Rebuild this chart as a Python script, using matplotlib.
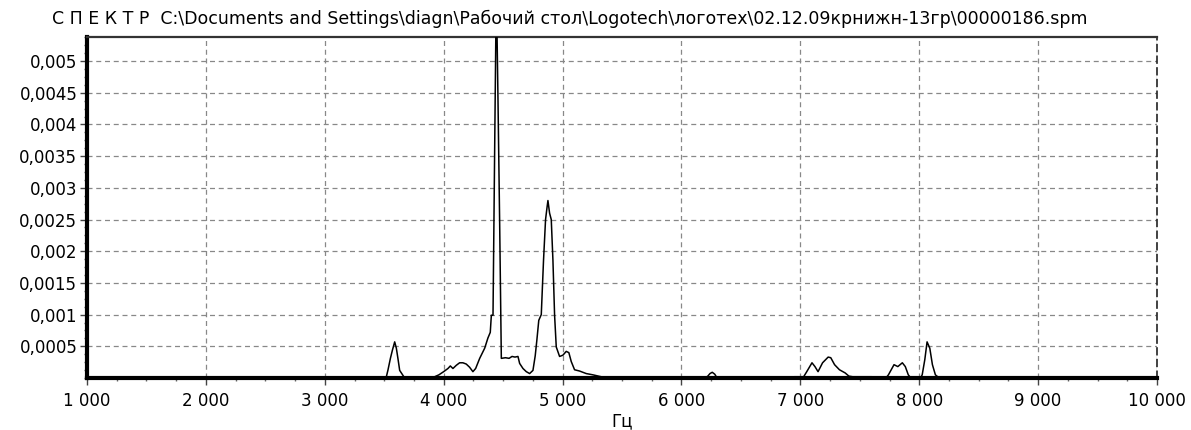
import matplotlib
matplotlib.use("Agg")
import matplotlib.pyplot as plt
from matplotlib.ticker import MultipleLocator

# --- данные спектра (Гц, амплитуда) ---
freq = [1000, 3500, 3518, 3532, 3552, 3569, 3588, 3602, 3616, 3630, 3658, 3672,
        3900, 3924, 3960, 4000, 4036, 4056, 4078, 4106, 4134, 4162, 4190, 4218,
        4246, 4269, 4303, 4345, 4372, 4392, 4401, 4415, 4429, 4443, 4457, 4471,
        4485, 4520, 4550, 4575, 4600, 4625, 4639, 4667, 4695, 4723, 4751, 4770,
        4784, 4800, 4821, 4840, 4857, 4870, 4877, 4891, 4905, 4919, 4933, 4947,
        4975, 5003, 5031, 5053, 5073, 5101, 5143, 5199, 5255, 5325, 5360,
        6200, 6222, 6240, 6259, 6280, 6300, 6490, 6516, 6540,
        6933, 6950, 7028, 7054, 7098, 7123, 7149, 7187, 7234, 7256, 7288, 7329,
        7377, 7408, 7440, 7600, 7620, 7720, 7741, 7788, 7820, 7858, 7883, 7908,
        7930, 8010, 8025, 8047, 8066, 8089, 8111, 8136, 8168,
        9400, 9418, 9440, 10000]
amp = [0, 0, 0.00002, 0.00013, 0.00031, 0.00044, 0.00057, 0.00047, 0.0003, 0.00012, 0.00004, 0,
       0, 0.00002, 0.00005, 0.0001, 0.00015, 0.00019, 0.00015, 0.0002, 0.00024, 0.00024, 0.00022, 0.00017,
       0.0001, 0.00015, 0.00031, 0.00047, 0.00063, 0.00072, 0.00099, 0.00099, 0.00362, 0.0062, 0.00438, 0.00244,
       0.00031, 0.00032, 0.00031, 0.00034, 0.00033, 0.00034, 0.00023, 0.00015, 0.0001, 0.00007, 0.00012, 0.00035,
       0.0006, 0.00091, 0.001, 0.00186, 0.0025, 0.0027, 0.0028, 0.0026, 0.0025, 0.00186, 0.00099, 0.00049,
       0.00034, 0.00036, 0.00042, 0.0004, 0.00026, 0.00013, 0.00011, 0.00007, 0.00005, 0.00002, 0,
       0, 0.00003, 0.00007, 0.00009, 0.00006, 0, 0, 0.00002, 0,
       0, 0.00002, 0.00002, 0.0001, 0.00024, 0.00018, 0.0001, 0.00024, 0.00033, 0.00032, 0.00021, 0.00013,
       0.00008, 0.00003, 0.00002, 0.00002, 0, 0, 0.00005, 0.00021, 0.00018, 0.00024, 0.00018, 0.00005,
       0, 0, 0.00005, 0.00029, 0.00057, 0.00047, 0.00021, 0.00005, 0,
       0, 0.00002, 0, 0]

xticks = [1000, 2000, 3000, 4000, 5000, 6000, 7000, 8000, 9000, 10000]
xtick_labels = ["1 000", "2 000", "3 000", "4 000", "5 000", "6 000", "7 000", "8 000", "9 000", "10 000"]
yticks = [0.0005, 0.001, 0.0015, 0.002, 0.0025, 0.003, 0.0035, 0.004, 0.0045, 0.005]
ytick_labels = ["0,0005", "0,001", "0,0015", "0,002", "0,0025", "0,003", "0,0035", "0,004", "0,0045", "0,005"]

title = ("С П Е К Т Р  C:\\Documents and Settings\\diagn\\Рабочий стол\\Logotech\\логотех"
         "\\02.12.09крнижн-13гр\\00000186.spm")

plt.rcParams['font.family'] = ['DejaVu Sans']

fig = plt.figure(figsize=(11.91, 4.30), dpi=100)
ax = fig.add_axes([87 / 1191, 1 - 378 / 430, (1157 - 87) / 1191, (378 - 37) / 430])

ax.plot(freq, amp, color="black", lw=1.1, zorder=3)

ax.set_xlim(1000, 10000)
ax.set_ylim(0, 0.00538)
ax.set_xticks(xticks)
ax.set_xticklabels(xtick_labels, fontsize=12)
ax.set_yticks(yticks)
ax.set_yticklabels(ytick_labels, fontsize=12)
ax.xaxis.set_minor_locator(MultipleLocator(250))
ax.yaxis.set_minor_locator(MultipleLocator(0.000125))
ax.tick_params(which="major", direction="out", length=5, width=1, color="#444444")
ax.tick_params(which="minor", direction="out", length=2.5, width=1, color="#666666")
ax.tick_params(axis="x", which="major", pad=5)
ax.tick_params(axis="y", which="major", pad=2)

ax.grid(True, which="major", color="#888888", lw=0.9, ls=(0, (4, 3)))

ax.spines["left"].set_linewidth(3)
ax.spines["bottom"].set_linewidth(3)
ax.spines["left"].set_color("black")
ax.spines["bottom"].set_color("black")
ax.spines["top"].set_linewidth(1.6)
ax.spines["top"].set_color("#333333")
ax.spines["right"].set_linewidth(1.2)
ax.spines["right"].set_color("#222222")
ax.spines["right"].set_linestyle((0, (4, 3)))

fig.text(52 / 1191, 1 - 19 / 430, title, fontsize=12.5, ha="left", va="center")
fig.text(622 / 1191, 1 - 421 / 430, "Гц", fontsize=12, ha="center", va="center")

fig.savefig("out.png", dpi=100)
